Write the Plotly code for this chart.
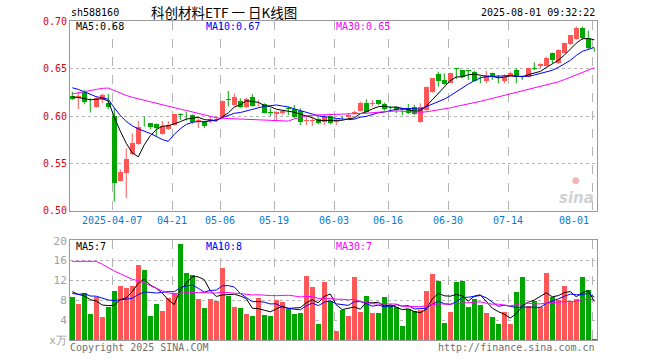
import numpy as np
import plotly.graph_objects as go

# ---------------- data ----------------
open_ = [0.6218, 0.6195, 0.6257, 0.6155, 0.6100, 0.6180, 0.6145, 0.6003, 0.5316, 0.5404,
         0.5600, 0.5712, 0.5930, 0.5926, 0.5919, 0.5815, 0.5865, 0.5910, 0.6015, 0.6015,
         0.6014, 0.5955, 0.5945, 0.5945, 0.5960, 0.5989, 0.6175, 0.6120, 0.6165, 0.6095,
         0.6208, 0.6125, 0.6130, 0.6040, 0.6021, 0.6031, 0.6080, 0.6074, 0.6060, 0.5955,
         0.5950, 0.5968, 0.5943, 0.6003, 0.5940, 0.5990, 0.5989, 0.6040, 0.6060, 0.6144,
         0.6135, 0.6172, 0.6127, 0.6086, 0.6102, 0.6068, 0.6091, 0.6102, 0.5943, 0.6067,
         0.6260, 0.6447, 0.6384, 0.6356, 0.6508, 0.6489, 0.6482, 0.6471, 0.6402, 0.6377,
         0.6461, 0.6402, 0.6377, 0.6426, 0.6489, 0.6402, 0.6419, 0.6508, 0.6532, 0.6532,
         0.6666, 0.6560, 0.6673, 0.6764, 0.6814, 0.6930, 0.6824, 0.6712]
high = [0.6260, 0.6260, 0.6280, 0.6190, 0.6212, 0.6240, 0.6236, 0.6090, 0.5440, 0.5660,
        0.5819, 0.5952, 0.5996, 0.5930, 0.5925, 0.5950, 0.5950, 0.6025, 0.6032, 0.6045,
        0.6020, 0.5978, 0.5950, 0.5990, 0.6000, 0.6165, 0.6267, 0.6240, 0.6190, 0.6197,
        0.6235, 0.6172, 0.6137, 0.6085, 0.6055, 0.6066, 0.6102, 0.6120, 0.6084, 0.5990,
        0.5980, 0.5990, 0.6014, 0.6010, 0.5968, 0.6003, 0.6031, 0.6060, 0.6155, 0.6180,
        0.6172, 0.6172, 0.6144, 0.6109, 0.6102, 0.6084, 0.6130, 0.6120, 0.6137, 0.6313,
        0.6401, 0.6472, 0.6454, 0.6461, 0.6508, 0.6489, 0.6490, 0.6482, 0.6426, 0.6482,
        0.6461, 0.6437, 0.6444, 0.6472, 0.6507, 0.6426, 0.6514, 0.6570, 0.6560, 0.6630,
        0.6673, 0.6708, 0.6778, 0.6859, 0.6948, 0.6948, 0.6905, 0.6720]
low = [0.6170, 0.6075, 0.6127, 0.6040, 0.6090, 0.6140, 0.6074, 0.5098, 0.5310, 0.5136,
       0.5590, 0.5700, 0.5890, 0.5862, 0.5780, 0.5805, 0.5855, 0.5900, 0.5960, 0.5955,
       0.5920, 0.5876, 0.5875, 0.5930, 0.5945, 0.5980, 0.6102, 0.6115, 0.6085, 0.6085,
       0.6102, 0.6102, 0.6030, 0.6003, 0.5950, 0.6014, 0.6014, 0.5980, 0.5908, 0.5908,
       0.5898, 0.5915, 0.5908, 0.5915, 0.5908, 0.5968, 0.5978, 0.6021, 0.6049, 0.6031,
       0.6102, 0.6120, 0.6060, 0.6060, 0.6031, 0.6014, 0.6024, 0.6014, 0.5933, 0.6060,
       0.6250, 0.6313, 0.6331, 0.6348, 0.6395, 0.6401, 0.6384, 0.6366, 0.6348, 0.6348,
       0.6384, 0.6348, 0.6348, 0.6419, 0.6348, 0.6384, 0.6412, 0.6490, 0.6507, 0.6525,
       0.6560, 0.6553, 0.6666, 0.6754, 0.6807, 0.6807, 0.6700, 0.6683]
close = [0.6179, 0.6215, 0.6148, 0.6148, 0.6197, 0.6220, 0.6095, 0.5291, 0.5415, 0.5550,
         0.5718, 0.5884, 0.5926, 0.5892, 0.5873, 0.5900, 0.5905, 0.6022, 0.6012, 0.6010,
         0.5943, 0.5962, 0.5900, 0.5972, 0.5975, 0.6162, 0.6170, 0.6208, 0.6095, 0.6186,
         0.6113, 0.6135, 0.6038, 0.6037, 0.6049, 0.6056, 0.6077, 0.5996, 0.5936, 0.5961,
         0.5955, 0.5933, 0.5996, 0.5925, 0.5945, 0.5988, 0.6014, 0.6043, 0.6144, 0.6049,
         0.6138, 0.6130, 0.6074, 0.6084, 0.6067, 0.6066, 0.6031, 0.6024, 0.6102, 0.6313,
         0.6401, 0.6377, 0.6341, 0.6454, 0.6505, 0.6412, 0.6478, 0.6377, 0.6400, 0.6437,
         0.6419, 0.6400, 0.6419, 0.6461, 0.6412, 0.6400, 0.6507, 0.6505, 0.6549, 0.6613,
         0.6595, 0.6701, 0.6771, 0.6859, 0.6937, 0.6824, 0.6718, 0.6708]
volume = [8.66, 7.25, 9.46, 5.23, 8.66, 4.63, 6.64, 9.87, 10.87, 10.4,
          10.87, 15.1, 14.1, 4.83, 7.25, 5.84, 8.4, 9.4, 19.4, 13.5,
          13.1, 8.25, 6.44, 8.25, 7.85, 14.5, 8.86, 6.64, 6.44, 5.23,
          4.83, 8.46, 5.03, 4.83, 8.05, 7.65, 6.24, 5.23, 5.44, 12.9,
          10.7, 3.2, 11.7, 7.85, 1.9, 6.0, 4.83, 12.7, 5.6, 8.9,
          5.4, 5.4, 8.66, 7.05, 6.64, 2.8, 6.24, 5.84, 6.04, 9.87,
          13.3, 11.9, 3.4, 5.6, 11.7, 11.9, 6.64, 8.25, 7.05, 5.44,
          4.63, 3.2, 5.64, 3.2, 9.66, 12.7, 6.85, 7.85, 6.64, 13.5,
          8.66, 8.05, 10.9, 7.65, 8.25, 12.7, 10.1, 0.2]
# sessions before the visible window (estimated from where the MA lines start)
prior_close = [0.578, 0.580, 0.583, 0.585, 0.588, 0.600, 0.612, 0.620, 0.628, 0.632,
               0.636, 0.640, 0.638, 0.642, 0.645, 0.640, 0.636, 0.639, 0.643, 0.641,
               0.638, 0.640, 0.645, 0.642, 0.633, 0.625, 0.620, 0.622, 0.618]
prior_volume = [7.5, 9.0, 5.5, 8.5, 22, 30, 28, 27, 26, 29, 24, 26, 22, 24, 21, 20, 19,
                11, 12, 10, 9, 8, 10, 9, 9, 10, 11, 9, 10]

tick_index = [7, 17, 25, 34, 44, 53, 63, 73, 87]
tick_labels = ["2025-04-07", "04-21", "05-06", "05-19", "06-03", "06-16", "06-30", "07-14", "08-01"]
price_ticks = [0.50, 0.55, 0.60, 0.65, 0.70]
vol_ticks = [0, 4, 8, 12, 16, 20]
vol_tick_text = ["x万", "4", "8", "12", "16", "20"]
ma_labels = ["MA5:0.68", "MA10:0.67", "MA30:0.65"]
vol_ma_labels = ["MA5:7", "MA10:8", "MA30:7"]
symbol = "sh588160"
title = "科创材料ETF 一 日K线图"
stamp = "2025-08-01 09:32:22"

# ---------------- derived ----------------
o = np.array(open_); h = np.array(high); l = np.array(low); c = np.array(close)
v = np.array(volume)
n = len(c)
x = np.arange(n)
up = c >= o
RED, GREEN = "#ff5757", "#00a600"
cols = [RED if u else GREEN for u in up]

def ma(full, w, n):
    full = np.asarray(full, float)
    out = np.convolve(full, np.ones(w) / w, mode="valid")
    return out[-n:]

cfull = np.concatenate([prior_close, c])
vfull = np.concatenate([prior_volume, v])
MA_COL = ["#000000", "#0000ff", "#ff00ff"]
wins = [5, 10, 30]

fig = go.Figure()

body_base = np.minimum(o, c)
body_h = np.maximum(np.abs(c - o), 0.0008)
fig.add_trace(go.Bar(x=x, y=body_h, base=body_base, width=0.83,
                     marker=dict(color=cols, line=dict(width=0)),
                     xaxis="x", yaxis="y", showlegend=False))
for flag, col in [(True, RED), (False, GREEN)]:
    wx, wy = [], []
    for i in range(n):
        if bool(up[i]) == flag:
            wx += [i, i, None]
            wy += [l[i], h[i], None]
    fig.add_trace(go.Scatter(x=wx, y=wy, mode="lines", line=dict(color=col, width=1),
                             xaxis="x", yaxis="y", showlegend=False, hoverinfo="skip"))
for w, col in zip(wins, MA_COL):
    fig.add_trace(go.Scatter(x=x, y=ma(cfull, w, n), mode="lines",
                             line=dict(color=col, width=1), xaxis="x", yaxis="y",
                             showlegend=False))
fig.add_trace(go.Bar(x=x, y=v, width=0.83, marker=dict(color=cols, line=dict(width=0)),
                     xaxis="x2", yaxis="y2", showlegend=False))
for w, col in zip(wins, MA_COL):
    fig.add_trace(go.Scatter(x=x, y=ma(vfull, w, n), mode="lines",
                             line=dict(color=col, width=1), xaxis="x2", yaxis="y2",
                             showlegend=False))

GRID = "#b4b4b4"
FRAME = "#9a9a9a"
MONO = "DejaVu Sans Mono"
xr = [-0.38, 87.45]
grid_x = [k - 0.33 for k in tick_index]
xcommon = dict(range=xr, tickvals=grid_x, showticklabels=False, showgrid=True,
               gridcolor=GRID, griddash="dash", gridwidth=1, zeroline=False,
               showline=True, mirror=True, linecolor=FRAME, linewidth=1, ticks="",
               automargin=False)

fig.update_layout(
    width=660, height=360,
    margin=dict(l=70, r=63, t=21, b=20, autoexpand=False),
    paper_bgcolor="white", plot_bgcolor="white",
    bargap=0, showlegend=False, hovermode=False,
    xaxis=dict(domain=[0, 1], anchor="y", **xcommon),
    xaxis2=dict(domain=[0, 1], anchor="y2", **xcommon),
    yaxis=dict(domain=[0.4044, 1], range=[0.4999, 0.7007], tickvals=price_ticks,
               ticktext=["%.2f" % t for t in price_ticks],
               tickfont=dict(family=MONO, size=10, color="#e00000"),
               showgrid=True, gridcolor=GRID, griddash="dot", zeroline=False,
               showline=True, mirror=True, linecolor=FRAME, linewidth=1, ticks="",
               automargin=False),
    yaxis2=dict(domain=[0, 0.3135], range=[0, 20.14], tickvals=vol_ticks,
                ticktext=vol_tick_text,
                tickfont=dict(family=MONO, size=11, color="#a0a0a0"),
                showgrid=True, gridcolor=GRID, griddash="dot", zeroline=False,
                showline=True, mirror=True, linecolor=FRAME, linewidth=1, ticks="",
                automargin=False),
)

def py(pix):
    return (340 - pix) / 319.0

def px(pix):
    return (pix - 70) / 527.0

ann = []
for k, lab in zip(tick_index, tick_labels):
    last = k == tick_index[-1]
    ann.append(dict(x=px(591) if last else px(72.3 + 6 * k - 2),
                    xref="paper", y=py(221), yref="paper", text=lab, showarrow=False,
                    xanchor="right" if last else "center", yanchor="middle",
                    font=dict(family=MONO, size=10, color="#0a78d2")))
for lab, col, xp in zip(ma_labels, MA_COL, [74, 204, 334]):
    ann.append(dict(x=px(xp), xref="paper", y=py(27), yref="paper", text=lab,
                    showarrow=False, xanchor="left", yanchor="middle",
                    font=dict(family=MONO, size=10, color=col)))
for lab, col, xp in zip(vol_ma_labels, MA_COL, [74, 204, 334]):
    ann.append(dict(x=px(xp), xref="paper", y=py(246), yref="paper", text=lab,
                    showarrow=False, xanchor="left", yanchor="middle",
                    font=dict(family=MONO, size=10, color=col)))
ann.append(dict(x=px(69), xref="paper", y=py(12.5), yref="paper", text=symbol,
                showarrow=False, xanchor="left", yanchor="middle",
                font=dict(family=MONO, size=10, color="#000000")))
ann.append(dict(x=px(224), xref="paper", y=py(12.5), yref="paper", text=title,
                showarrow=False, xanchor="center", yanchor="middle",
                font=dict(family="Noto Sans CJK SC", size=13.5, color="#000000")))
ann.append(dict(x=px(597), xref="paper", y=py(12.5), yref="paper", text=stamp,
                showarrow=False, xanchor="right", yanchor="middle",
                font=dict(family=MONO, size=10, color="#000000")))
ann.append(dict(x=px(68), xref="paper", y=py(347), yref="paper",
                text="Copyright 2025 SINA.COM", showarrow=False, xanchor="left",
                yanchor="middle", font=dict(family=MONO, size=10, color="#707070")))
ann.append(dict(x=px(597), xref="paper", y=py(347), yref="paper",
                text="http://finance.sina.com.cn", showarrow=False, xanchor="right",
                yanchor="middle", font=dict(family=MONO, size=10, color="#707070")))
ann.append(dict(x=px(596), xref="paper", y=py(198), yref="paper", text="<b><i>sina</i></b>",
                showarrow=False, xanchor="right", yanchor="middle",
                font=dict(family="DejaVu Sans", size=15, color="#d2d2d2")))
ann.append(dict(x=px(576), xref="paper", y=py(187), yref="paper", text="●",
                showarrow=False, xanchor="center", yanchor="bottom",
                font=dict(family="DejaVu Sans", size=9, color="#f4b4b4")))
fig.update_layout(annotations=ann)

# place the figure at the page's top-left corner (no default body margin)
fig.write_html("out.html", config={"displayModeBar": False, "staticPlot": True},
               post_script="document.body.style.margin='0px';document.body.style.overflow='hidden';")
